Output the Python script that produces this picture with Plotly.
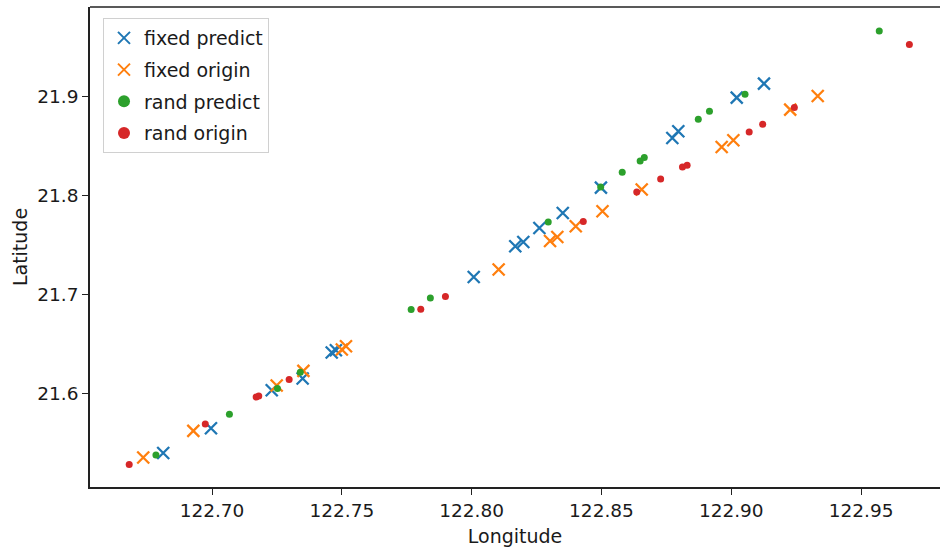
import plotly.graph_objects as go

# fixed predict (blue x)
fp_lon = [122.6812, 122.6996, 122.7230, 122.7349, 122.7461, 122.7477, 122.8008, 122.8168,
          122.8199, 122.8261, 122.8351, 122.8498, 122.8773, 122.8796, 122.9021, 122.9126]
fp_lat = [21.5400, 21.5650, 21.6034, 21.6153, 21.6416, 21.6439, 21.7180, 21.7490,
          21.7534, 21.7675, 21.7827, 21.8084, 21.8585, 21.8653, 21.8994, 21.9135]

# fixed origin (orange x)
fo_lon = [122.6735, 122.6928, 122.7249, 122.7352, 122.7500, 122.7516, 122.8104, 122.8302,
          122.8330, 122.8401, 122.8504, 122.8655, 122.8963, 122.9008, 122.9227, 122.9333]
fo_lat = [21.5354, 21.5623, 21.6082, 21.6230, 21.6446, 21.6479, 21.7255, 21.7544,
          21.7584, 21.7693, 21.7844, 21.8064, 21.8494, 21.8562, 21.8872, 21.9010]

# rand predict (green dots)
rp_lon = [122.6784, 122.7067, 122.7252, 122.7340, 122.7767, 122.7841, 122.8295, 122.8497,
          122.8580, 122.8649, 122.8665, 122.8873, 122.8916, 122.9053, 122.9570]
rp_lat = [21.5380, 21.5792, 21.6052, 21.6216, 21.6850, 21.6968, 21.7736, 21.8090,
          21.8239, 21.8353, 21.8387, 21.8775, 21.8855, 21.9027, 21.9667]

# rand origin (red dots)
ro_lon = [122.6681, 122.6974, 122.7170, 122.7180, 122.7297, 122.7804, 122.7899, 122.8430,
          122.8636, 122.8728, 122.8812, 122.8830, 122.9069, 122.9121, 122.9243, 122.9686]
ro_lat = [21.5283, 21.5694, 21.5965, 21.5975, 21.6143, 21.6853, 21.6982, 21.7740,
          21.8040, 21.8171, 21.8292, 21.8310, 21.8646, 21.8724, 21.8893, 21.9530]

x_ticks = [122.70, 122.75, 122.80, 122.85, 122.90, 122.95]
x_ticklabels = ["122.70", "122.75", "122.80", "122.85", "122.90", "122.95"]
y_ticks = [21.6, 21.7, 21.8, 21.9]
y_ticklabels = ["21.6", "21.7", "21.8", "21.9"]

BLUE, ORANGE, GREEN, RED = "#1f77b4", "#ff7f0e", "#2ca02c", "#d62728"

fig = go.Figure()
fig.add_trace(go.Scatter(x=fp_lon, y=fp_lat, mode="markers", name="fixed predict",
                         legendgroup="a",
                         marker=dict(symbol="x-thin", size=12, color=BLUE,
                                     line=dict(width=2.3, color=BLUE))))
fig.add_trace(go.Scatter(x=fo_lon, y=fo_lat, mode="markers", name="fixed origin",
                         legendgroup="b",
                         marker=dict(symbol="x-thin", size=12, color=ORANGE,
                                     line=dict(width=2.3, color=ORANGE))))
fig.add_trace(go.Scatter(x=rp_lon, y=rp_lat, mode="markers", name="rand predict",
                         legendgroup="c",
                         marker=dict(symbol="circle", size=7, color=GREEN, line=dict(width=0))))
fig.add_trace(go.Scatter(x=ro_lon, y=ro_lat, mode="markers", name="rand origin",
                         legendgroup="d",
                         marker=dict(symbol="circle", size=7, color=RED, line=dict(width=0))))

font_family = "DejaVu Sans"
fig.update_layout(
    width=940, height=556,
    margin=dict(l=90, r=0, t=7, b=69),
    paper_bgcolor="white", plot_bgcolor="white",
    font=dict(family=font_family, size=19, color="#1a1a1a"),
    showlegend=True,
    legend=dict(x=0.0153, y=0.977, xanchor="left", yanchor="top",
                bgcolor="rgba(255,255,255,0.85)", bordercolor="#d0d0d0", borderwidth=1,
                font=dict(family=font_family, size=19, color="#1a1a1a"),
                tracegroupgap=4, itemsizing="constant"),
    xaxis=dict(range=[122.653, 122.9804], tickmode="array", tickvals=x_ticks,
               ticktext=x_ticklabels, showgrid=False, zeroline=False,
               showline=True, linecolor="#222222", linewidth=1.6,
               ticks="outside", ticklen=6, tickwidth=1.4, tickcolor="#222222",
               tickfont=dict(size=18.5), title=dict(text="Longitude", font=dict(size=19), standoff=10)),
    yaxis=dict(range=[21.5056, 21.991], tickmode="array", tickvals=y_ticks,
               ticktext=y_ticklabels, showgrid=False, zeroline=False,
               showline=True, linecolor="#222222", linewidth=1.6,
               ticks="outside", ticklen=6, tickwidth=1.4, tickcolor="#222222",
               tickfont=dict(size=18.5), title=dict(text="Latitude", font=dict(size=19), standoff=5)),
)
fig.add_shape(type="line", xref="paper", yref="paper", x0=0, x1=1, y0=1, y1=1,
              line=dict(color="#222222", width=1.6))

fig.write_html("out.html")
